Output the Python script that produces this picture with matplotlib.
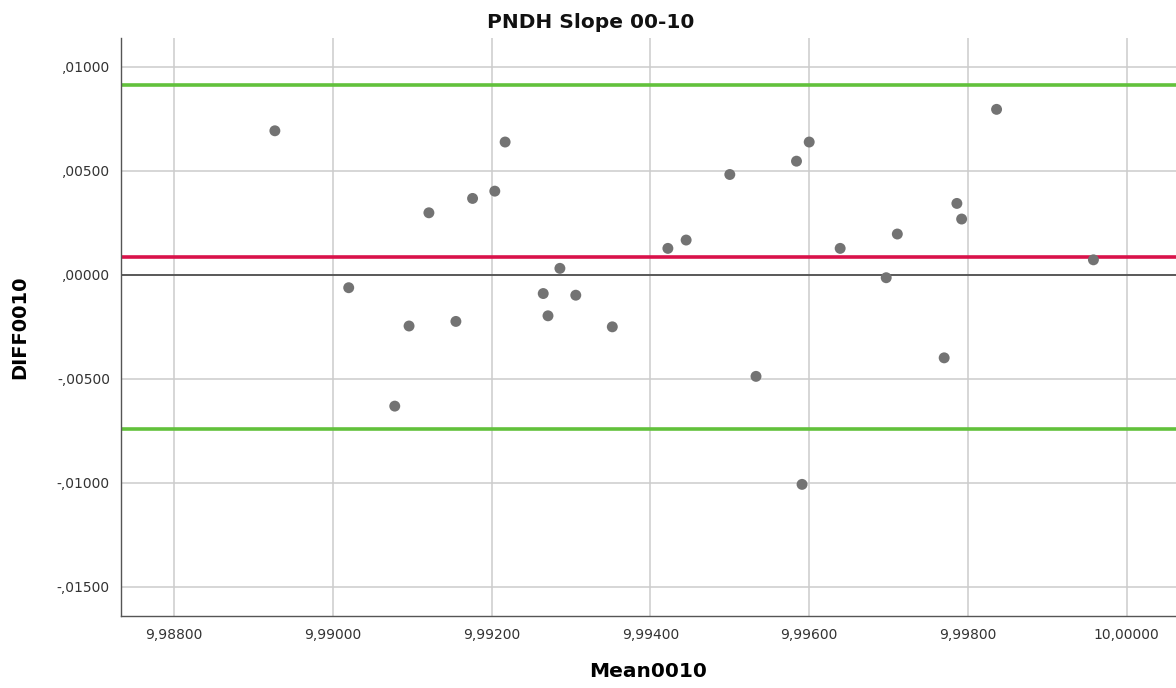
import numpy as np
import matplotlib
matplotlib.use("Agg")
import matplotlib.pyplot as plt
from matplotlib.ticker import FuncFormatter

# Bland-Altman data
mean0010 = [9.98927, 9.99020, 9.99078, 9.99096, 9.99121, 9.99155, 9.99176,
            9.99204, 9.99217, 9.99265, 9.99271, 9.99286, 9.99306, 9.99352,
            9.99422, 9.99445, 9.99500, 9.99533, 9.99584, 9.99591, 9.99600,
            9.99639, 9.99697, 9.99711, 9.99770, 9.99786, 9.99792, 9.99836,
            9.99958]
diff0010 = [0.00692, -0.00062, -0.00631, -0.00246, 0.00298, -0.00224, 0.00367,
            0.00402, 0.00638, -0.00090, -0.00197, 0.00031, -0.00098, -0.00250,
            0.00127, 0.00167, 0.00482, -0.00488, 0.00546, -0.01007, 0.00638,
            0.00127, -0.00014, 0.00196, -0.00399, 0.00343, 0.00268, 0.00795,
            0.00072]

mean_diff = 0.00085
upper_loa = 0.00912
lower_loa = -0.00741

x_ticks = [9.988, 9.990, 9.992, 9.994, 9.996, 9.998, 10.000]
y_ticks = [0.010, 0.005, 0.0, -0.005, -0.010, -0.015]


def x_fmt(v, pos):
    return f"{v:.5f}".replace(".", ",")


def y_fmt(v, pos):
    s = f"{abs(v):.5f}"[1:].replace(".", ",")
    return ("-" if v < -1e-12 else "") + s


fig = plt.figure(figsize=(11.76, 6.88), dpi=100)
ax = fig.add_axes([0.1029, 0.1047, 0.8971, 0.8405])

ax.set_xlim(9.987332, 10.00062)
ax.set_ylim(-0.016393, 0.011393)

ax.set_xticks(x_ticks)
ax.set_yticks(y_ticks)
ax.xaxis.set_major_formatter(FuncFormatter(x_fmt))
ax.yaxis.set_major_formatter(FuncFormatter(y_fmt))
ax.grid(True, color="#cccccc", linewidth=1.1)
ax.set_axisbelow(True)

ax.tick_params(length=0, labelsize=10, labelcolor="#333333")
ax.tick_params(axis="x", pad=9)
ax.tick_params(axis="y", pad=8)

for side in ("top", "right"):
    ax.spines[side].set_visible(False)
for side in ("left", "bottom"):
    ax.spines[side].set_color("#555555")
    ax.spines[side].set_linewidth(1.0)

ax.axhline(0, color="#444444", linewidth=1.2, zorder=2)
ax.axhline(upper_loa, color="#62c13c", linewidth=2.6, zorder=2)
ax.axhline(lower_loa, color="#62c13c", linewidth=2.6, zorder=2)
ax.axhline(mean_diff, color="#d9124a", linewidth=2.6, zorder=2)

ax.scatter(mean0010, diff0010, s=62, color="#737373", edgecolors="none", zorder=3)

fig.text(0.502, 0.968, "PNDH Slope 00-10", ha="center", va="center",
         fontsize=14.5, fontweight="bold", color="#111111")
ax.set_xlabel("Mean0010", fontsize=14.5, fontweight="bold", labelpad=14)
ax.set_ylabel("DIFF0010", fontsize=14, fontweight="bold", labelpad=20)

fig.savefig("out.png", dpi=100)
